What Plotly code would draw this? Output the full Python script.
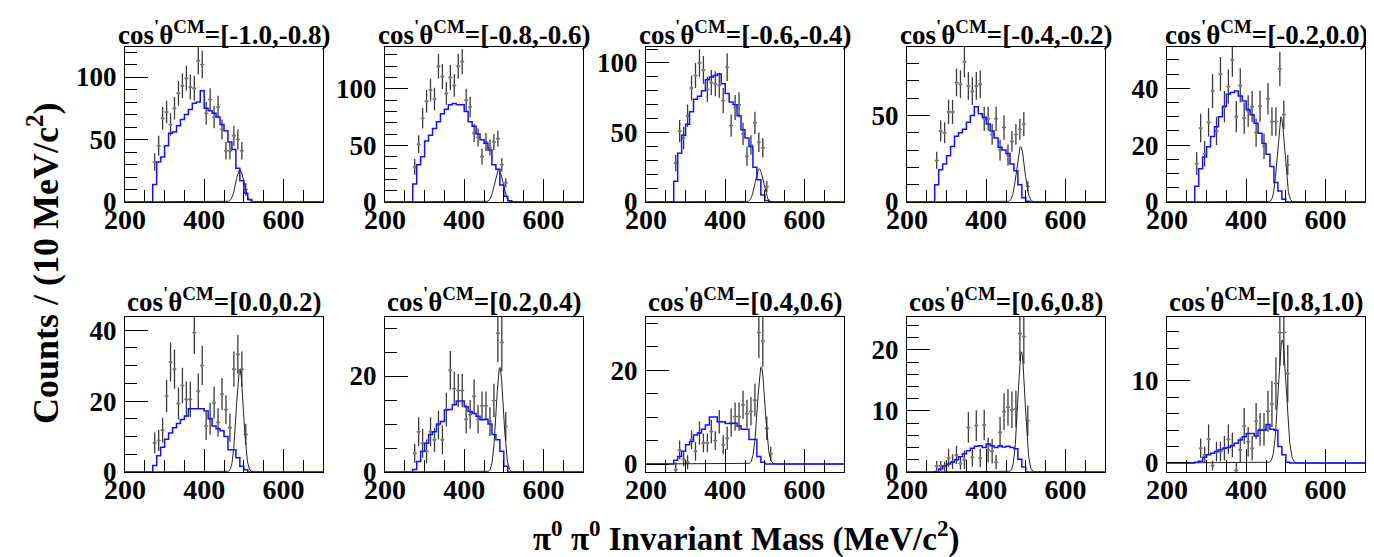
import numpy as np
import plotly.graph_objects as go

# ---------------- data ----------------
TITLES = ["[-1.0,-0.8)", "[-0.8,-0.6)", "[-0.6,-0.4)", "[-0.4,-0.2)", "[-0.2,0.0)",
          "[0.0,0.2)", "[0.2,0.4)", "[0.4,0.6)", "[0.6,0.8)", "[0.8,1.0)"]

BIN_WIDTH = 10
HIST_START = 270          # first edge of the blue (MC) histogram
DATA_START = [275, 275, 275, 275, 275, 275, 275, 275, 275, 285]   # first data bin centre

# data points (counts per 10 MeV) and their errors
p1_y = [32, 45, 67, 72, 62, 75, 87, 93, 99, 92, 91, 113, 110, 71, 82, 68, 76, 58, 41, 41, 53, 50, 41, 10]
p1_e = [7, 8, 9, 9, 9, 9, 10, 10, 10, 10, 10, 11, 11, 9, 9, 9, 9, 8, 7, 7, 8, 8, 7, 5]
p2_y = [31, 51, 74, 89, 99, 91, 120, 111, 96, 110, 103, 120, 124, 90, 84, 61, 57, 40, 53, 48, 53, 56, 33, 17]
p2_e = [7, 8, 9, 10, 10, 10, 11, 11, 10, 11, 10, 11, 11, 10, 9, 8, 8, 7, 8, 7, 7, 7, 6, 4]
p3_y = [28, 51, 46, 62, 82, 91, 100, 95, 81, 86, 85, 84, 73, 97, 55, 68, 70, 49, 33, 41, 57, 43, 39, 11]
p3_e = [6, 8, 8, 8, 9, 9, 10, 10, 9, 9, 9, 9, 9, 10, 8, 9, 9, 8, 7, 7, 8, 7, 7, 4]
p4_y = [24, 41, 40, 52, 52, 69, 68, 81, 67, 64, 67, 68, 48, 48, 39, 48, 30, 43, 27, 35, 39, 42, 45, 9]
p4_e = [5, 6, 6, 7, 7, 8, 8, 9, 8, 8, 8, 8, 7, 7, 6, 7, 6, 7, 6, 6, 6, 6, 7, 3]
p5_y = [13.5, 26, 17, 28, 39, 25, 45, 33.5, 40.6, 50, 30, 41, 29.5, 32, 33.5, 24.4, 33.7, 19.6, 36.3, 28.3, 28.3, 46.8, 30.7, 13]
p5_e = [4, 5, 4.5, 5, 6, 5, 6, 5.5, 6, 6, 5.5, 6, 5.5, 5.5, 5.5, 5, 5.5, 4.5, 5.5, 5, 5, 6, 5, 3.5]
p6_y = [8.2, 8.9, 11.8, 21.4, 31, 29, 19.3, 24.4, 20.5, 20.5, 39.3, 22.8, 30, 13, 15, 19.5, 14, 22, 17.6, 12.5, 29, 33.2, 29, 10.6]
p6_e = [3, 3, 3.5, 4.5, 5.5, 5.5, 4.5, 5, 5, 5, 6, 5, 5.5, 4, 4.5, 4.5, 4, 4.5, 4, 4, 5, 5.5, 5, 3]
p7_y = [3.9, 8.4, 6, 4.3, 8.4, 6.7, 9.8, 6.7, 13, 21.2, 17.4, 17, 17, 11, 12, 15.8, 11, 13.8, 13.8, 10.5, 14.9, 28.9, 27, 9.5]
p7_e = [2, 3, 3, 2.5, 3, 2.5, 3, 3, 3.5, 4, 3.5, 3.5, 3.5, 3, 3, 3.5, 3, 3, 3, 3, 3.5, 6, 6, 3]
p8_y = [-1.2, 3, 1, 0.4, 5.2, 2.7, 6.6, 4.5, 4.5, 6.9, 5, 9, 4.1, 5.5, 8.8, 10.1, 10.1, 12.6, 10.7, 11.2, 13.6, 28, 26.2, 7.6, 2.2]
p8_e = [1.5, 2, 1.5, 1.5, 2, 2, 2.5, 2, 2, 2.5, 2, 2.5, 2, 2.5, 3, 3, 3, 3, 3, 3, 3.5, 5.5, 5.5, 2.5, 1.5]
p9_y = [1, 1, 0.9, 2.3, 1.7, 2.8, 1.4, 2, 7.3, 2.4, 7.6, 2.3, 7.7, 3.6, 3.4, 1.6, 6.5, 9.9, 10.6, 10.2, 10.3, 22.7, 22.2, 8.4]
p9_e = [0.8, 0.8, 0.8, 1.5, 1.2, 1.5, 1, 1.5, 2.5, 1.5, 2.5, 1.5, 2.5, 2, 2, 1.2, 2.5, 3, 3, 3, 3, 4.5, 4.5, 2.5]
p10_y = [1.8, 1, 2.9, -0.3, 1.4, 1.4, 1.8, 2.9, 2.2, -0.9, 1.6, 4.5, 2.6, 1.8, 5.1, 4.1, 4.1, 6.3, 7.2, 9.7, 15.9, 15.9, 10.9]
p10_e = [1.2, 1, 1.8, 0.6, 1.2, 1.2, 1.5, 1.8, 1.5, 1, 1.5, 2.2, 1.8, 1.5, 2.2, 2, 2, 2.5, 2.8, 3.2, 4, 4, 3.5]

# blue MC histogram contents, bins of 10 MeV starting at 270
b1 = [14, 32, 36, 45, 55, 56, 61, 66, 70, 74, 79, 80, 89, 75, 73, 71, 68, 62, 57, 48, 42, 27, 17, 7, 2]
b2 = [16, 33, 40, 54, 59, 65, 71, 78, 82, 86, 87, 86, 86, 80, 71, 67, 60, 55, 52, 46, 33, 29, 15, 5, 1]
b3 = [15, 35, 48, 56, 65, 74, 76, 80, 88, 90, 91, 92, 85, 78, 72, 70, 62, 52, 46, 40, 25, 16, 5, 1, 0]
b4 = [10, 18.6, 22, 26.7, 32, 38, 40, 42, 46, 50, 55, 51, 49, 45, 41, 37, 31.6, 30, 28, 22, 18, 10, 2.5, 0.5, 0]
b5 = [5.5, 11.7, 15.8, 19.4, 23, 26.5, 30, 33.7, 37.9, 38.5, 39, 37.3, 35.5, 32.5, 30.7, 27.7, 24.2, 20.6, 16.8, 12.5, 6.9, 3.9, 1, 0, 0]
b6 = [1.8, 4.6, 7, 9.2, 11, 12.5, 13.7, 14.8, 15.8, 17.8, 17.8, 17.8, 17.8, 17.2, 15, 13, 12.2, 11.6, 10, 6.3, 6.3, 4, 1.6, 0.6, 0]
b7 = [0.5, 2.2, 4.3, 6, 7.8, 8.4, 10, 10.5, 12.9, 13, 14, 14.8, 14.8, 13.6, 12.6, 12.2, 11.6, 10.9, 11, 10, 7.8, 6.7, 4.3, 1.2, 0]
b8 = [0.8, 1.6, 2.7, 4.1, 4.8, 6.2, 6.6, 7.4, 8.3, 10, 10, 9, 9, 8.6, 8.6, 8.7, 8.1, 7.4, 7.4, 5.2, 5.2, 1.6, 0.4, 0, 0]
b9 = [0.1, 0.5, 1, 1.3, 1.6, 2, 2.5, 3.0, 3.5, 3.9, 4.2, 4.3, 4.0, 4.6, 4.3, 4.0, 4.3, 4.1, 4.2, 4.0, 3.8, 2.1, 0.8, 0, 0]
b10 = [0.1, 0.2, 0.7, 1.0, 1.2, 1.4, 1.6, 1.8, 1.9, 2.1, 2.4, 2.8, 3.2, 3.6, 3.6, 3.3, 4.0, 4.0, 4.7, 4.1, 4.0, 2.0, 1.0, 0.1, 0]

# fitted K0 peak (Gaussian) parameters
G_AMP = [26, 29, 24, 32, 30, 29, 21.8, 20.7, 19.7, 15]
G_MEAN = [490, 487, 486, 487, 488, 490, 490, 491, 489, 491]
G_SIGMA = [10, 10, 10, 10, 9, 9, 9, 9.5, 9, 10]

# axis ranges / ticks
X_RANGE = [200, 700]
Y_MIN = [0, 0, 0, 0, 0, 0, 0, -1.7, 0, -1.1]
Y_MAX = [124, 137, 111.5, 89.5, 54.5, 43.7, 32.3, 31.3, 25.4, 17.8]
Y_DTICK = [50, 50, 50, 50, 20, 20, 20, 20, 10, 10]
Y_MINOR = [10, 10, 10, 10, 5, 5, 5, 5, 2, 2]

DATA_Y = [p1_y, p2_y, p3_y, p4_y, p5_y, p6_y, p7_y, p8_y, p9_y, p10_y]
DATA_E = [p1_e, p2_e, p3_e, p4_e, p5_e, p6_e, p7_e, p8_e, p9_e, p10_e]
MC = [b1, b2, b3, b4, b5, b6, b7, b8, b9, b10]

# ---------------- layout geometry (screen pixels) ----------------
W, H = 1374, 557
PAGE_OFF = 8              # default body margin of the html page
COL_L = [125, 385, 646, 907, 1167]
COL_W = 198
ROW_T = [47, 317]
ROW_H = 155
TITLE_Y = [33, 300]


def px(xp):
    return (xp - PAGE_OFF) / W


def py(yp):
    return 1 - (yp - PAGE_OFF) / H


FONT = "Liberation Serif"
BLUE = "#1010ff"

fig = go.Figure()
layout = dict(width=W, height=H, margin=dict(l=0, r=0, t=0, b=0, autoexpand=False),
              paper_bgcolor="white", plot_bgcolor="white", showlegend=False)
annotations = []

xfine = np.linspace(X_RANGE[0], X_RANGE[1], 1001)

for i in range(10):
    r, c = divmod(i, 5)
    n = i + 1
    xa = "x" if n == 1 else f"x{n}"
    ya = "y" if n == 1 else f"y{n}"

    # data points
    yd = DATA_Y[i]
    xd = [DATA_START[i] + BIN_WIDTH * k for k in range(len(yd))]
    fig.add_trace(go.Scatter(
        x=xd, y=yd, mode="markers", xaxis=xa, yaxis=ya,
        marker=dict(size=3, color="#777777", symbol="circle"),
        error_y=dict(type="data", array=DATA_E[i], color="#3a3a3a", thickness=1.3, width=0),
        error_x=dict(type="constant", value=BIN_WIDTH / 2, color="#3a3a3a", thickness=1, width=0),
        hoverinfo="skip"))

    # Gaussian fit
    gy = G_AMP[i] * np.exp(-0.5 * ((xfine - G_MEAN[i]) / G_SIGMA[i]) ** 2)
    fig.add_trace(go.Scatter(x=xfine, y=gy, mode="lines", xaxis=xa, yaxis=ya,
                             line=dict(color="#222222", width=1), hoverinfo="skip"))

    # blue MC histogram (step)
    vals = MC[i]
    edges = [HIST_START + BIN_WIDTH * k for k in range(len(vals))]
    hx = [X_RANGE[0]] + edges + [HIST_START + BIN_WIDTH * len(vals), X_RANGE[1]]
    hy = [0] + list(vals) + [0, 0]
    fig.add_trace(go.Scatter(x=hx, y=hy, mode="lines", line_shape="hv", xaxis=xa, yaxis=ya,
                             line=dict(color=BLUE, width=1.5), hoverinfo="skip"))

    layout["xaxis" if n == 1 else f"xaxis{n}"] = dict(
        domain=[px(COL_L[c]), px(COL_L[c] + COL_W)], anchor=ya, range=X_RANGE, automargin=False,
        showline=True, mirror=True, linecolor="black", linewidth=1,
        showgrid=False, zeroline=False,
        tickmode="linear", tick0=200, dtick=200,
        ticks="inside", ticklen=23, tickwidth=1, tickcolor="black",
        minor=dict(ticks="inside", ticklen=12, dtick=50, tick0=200, tickcolor="black", tickwidth=1, showgrid=False),
        tickfont=dict(family=FONT, size=28, color="black", weight="bold"),
        ticklabelstandoff=-8)
    layout["yaxis" if n == 1 else f"yaxis{n}"] = dict(
        domain=[py(ROW_T[r] + ROW_H), py(ROW_T[r])], anchor=xa, range=[Y_MIN[i], Y_MAX[i]],
        automargin=False,
        showline=True, mirror=True, linecolor="black", linewidth=1,
        showgrid=False, zeroline=False,
        tickmode="linear", tick0=0, dtick=Y_DTICK[i],
        ticks="inside", ticklen=23, tickwidth=1, tickcolor="black",
        minor=dict(ticks="inside", ticklen=12, dtick=Y_MINOR[i], tick0=0, tickcolor="black", tickwidth=1, showgrid=False),
        tickfont=dict(family=FONT, size=27, color="black", weight="bold"),
        ticklabelstandoff=2)

    # panel title
    xc_px = COL_L[c] + COL_W / 2
    annotations.append(dict(
        xref="paper", yref="paper", x=px(xc_px), y=py(TITLE_Y[r]),
        xanchor="center", yanchor="middle",
        text="cos<sup>'</sup>θ<sup>CM</sup>=" + TITLES[i], showarrow=False,
        font=dict(family=FONT, size=27, color="black", weight="bold")))

# axis titles
annotations.append(dict(xref="paper", yref="paper", x=px(43), y=py(263),
                        xanchor="center", yanchor="middle", textangle=-90,
                        text="Counts / (10 MeV/c<sup>2</sup>)", showarrow=False,
                        font=dict(family=FONT, size=36, color="black", weight="bold")))
annotations.append(dict(xref="paper", yref="paper", x=px(746), y=py(536),
                        xanchor="center", yanchor="middle",
                        text="π<sup>0</sup> π<sup>0</sup> Invariant Mass (MeV/c<sup>2</sup>)",
                        showarrow=False, font=dict(family=FONT, size=33, color="black", weight="bold")))

layout["annotations"] = annotations
fig.update_layout(**layout)
fig.write_html("out.html")
